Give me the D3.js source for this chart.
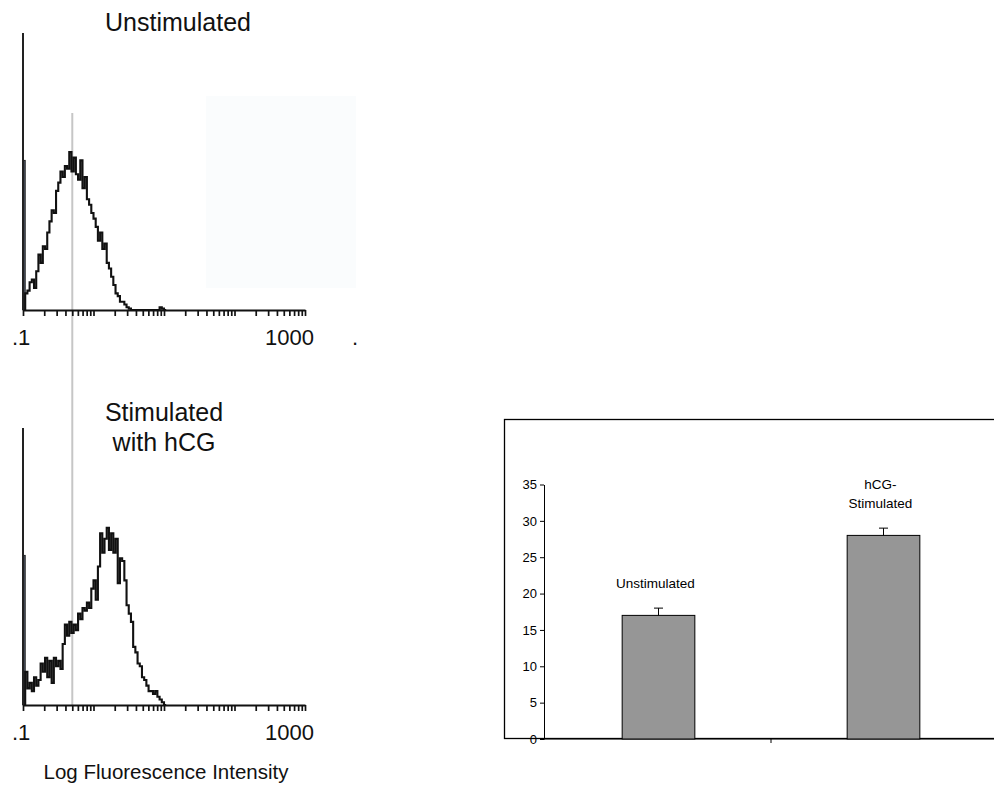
<!DOCTYPE html>
<html>
<head>
<meta charset="utf-8">
<script src="https://cdn.jsdelivr.net/npm/d3@7"></script>
<style>
  html, body { margin: 0; padding: 0; background: #fff; }
  svg { display: block; font-family: "Liberation Sans", Arial, Helvetica, sans-serif; }
</style>
</head>
<body>
<svg id="fig" width="994" height="787"></svg>
<script>
// ---- Flow cytometry histograms (events per channel, 128 channels over 4 log decades) ----
const histDomain = [0.1, 1000];
const channelCount = 128;
const unstimCounts = [54, 6, 7, 10, 11, 8, 14, 20, 17, 23, 22, 28, 32, 36, 35, 43, 46, 50, 48, 52,
  51, 57, 50, 55, 49, 47, 54, 44, 48, 40, 38, 35, 33, 30, 25, 28, 22, 24, 17, 15,
  12, 9, 6, 5, 3, 3, 2, 1, 0.5, 0, 0, 0, 0, 0, 0, 0, 0, 0, 0, 0,
  0, 0, 1, 0.5, 0];
const hcgCounts = [54, 12, 6, 8, 5, 10, 7, 9, 15, 12, 17, 10, 16, 8, 17, 14, 16, 13, 22, 29,
  25, 30, 26, 29, 27, 33, 31, 35, 34, 37, 35, 42, 45, 38, 50, 62, 55, 60, 64, 56,
  62, 55, 60, 44, 53, 52, 45, 36, 33, 30, 21, 19, 15, 14, 10, 9, 7, 5, 5, 4,
  5, 3, 2, 1, 0];
const histTickLabels = [".1", "1000"];
const gateValue = 0.5;

// ---- Bar chart (percentage of cells) ----
const groups = ["Unstimulated", "hCG-Stimulated"];
const groupLabelLines = [["Unstimulated"], ["hCG-", "Stimulated"]];
const means = [17, 28];
const sems = [1, 1];
const barTicks = [0, 5, 10, 15, 20, 25, 30, 35];

const svg = d3.select("#fig");
svg.append("rect").attr("width", 994).attr("height", 787).attr("fill", "#fff");

// very faint tint behind the upper histogram
svg.append("rect").attr("x", 206).attr("y", 96).attr("width", 150).attr("height", 192)
  .attr("fill", "#fafcfd");

const xH = d3.scaleLog().domain(histDomain).range([23, 305]);
const decadeSpan = Math.log10(histDomain[1]) - Math.log10(histDomain[0]);
const edge = i => Math.pow(10, Math.log10(histDomain[0]) + i * decadeSpan / channelCount);

const minorTicks = [];
for (let d = -1; d < 3; d++) for (let m = 1; m < 10; m++) minorTicks.push(m * Math.pow(10, d));
minorTicks.push(1000);

// gate marker spanning both panels
svg.append("line")
  .attr("x1", xH(gateValue)).attr("x2", xH(gateValue))
  .attr("y1", 113).attr("y2", 706)
  .attr("stroke", "#c6c6c6").attr("stroke-width", 2);

function drawHistogram(counts, baseY, titleLines, titleY0) {
  const y = d3.scaleLinear().domain([0, 100]).range([baseY, baseY - 277]);
  const g = svg.append("g");

  // pile-up channel at the low end
  g.append("rect")
    .attr("x", xH(edge(0))).attr("width", xH(edge(1)) - xH(edge(0)))
    .attr("y", y(counts[0])).attr("height", y(0) - y(counts[0]))
    .attr("fill", "#4d5566").attr("stroke", "#222").attr("stroke-width", 1);

  const pts = [[xH(edge(1)), y(0)]];
  for (let i = 1; i < counts.length; i++) pts.push([xH(edge(i)), y(counts[i])]);
  pts.push([xH(edge(counts.length)), y(0)]);
  g.append("path")
    .attr("d", d3.line().curve(d3.curveStepAfter)(pts))
    .attr("fill", "none").attr("stroke", "#111").attr("stroke-width", 2.1)
    .attr("stroke-linejoin", "miter");

  // y axis (no labels)
  g.append("line").attr("x1", 23).attr("x2", 23).attr("y1", baseY - 277).attr("y2", baseY)
    .attr("stroke", "#222").attr("stroke-width", 2);

  const ax = g.append("g").attr("transform", `translate(0,${baseY})`)
    .call(d3.axisBottom(xH).tickValues(minorTicks).tickSize(6).tickSizeOuter(0).tickFormat(""));
  ax.select(".domain").attr("stroke", "#111").attr("stroke-width", 2);
  ax.selectAll(".tick line").attr("stroke", "#111").attr("stroke-width", 1.7);

  g.append("text").attr("x", 12).attr("y", baseY + 35)
    .attr("font-size", 22).attr("fill", "#111").text(histTickLabels[0]);
  g.append("text").attr("x", 314).attr("y", baseY + 35).attr("text-anchor", "end")
    .attr("font-size", 22).attr("fill", "#111").text(histTickLabels[1]);

  titleLines.forEach((t, k) => {
    g.append("text").attr("x", titleLines.length > 1 ? 164 : 178).attr("y", titleY0 + k * 30)
      .attr("text-anchor", "middle").attr("font-size", 25).attr("fill", "#111").text(t);
  });
  return g;
}

drawHistogram(unstimCounts, 310, ["Unstimulated"], 31);
drawHistogram(hcgCounts, 705, ["Stimulated", "with hCG"], 421);

svg.append("text").attr("x", 352).attr("y", 345).attr("font-size", 22).attr("fill", "#111").text(".");
svg.append("text").attr("x", 166).attr("y", 779).attr("text-anchor", "middle")
  .attr("font-size", 20.5).attr("fill", "#111").text("Log Fluorescence Intensity");

// ---- bar chart panel ----
svg.append("rect").attr("x", 504.5).attr("y", 419.5).attr("width", 600).attr("height", 319)
  .attr("fill", "none").attr("stroke", "#000").attr("stroke-width", 1.3);

const yB = d3.scaleLinear().domain([0, 35]).range([739, 484.5]);
const xB = d3.scaleBand().domain(groups).range([546, 996]).paddingInner(0.677).paddingOuter(0.3385);

const yAx = svg.append("g").attr("transform", "translate(544,0)")
  .call(d3.axisLeft(yB).tickValues(barTicks).tickSize(4).tickSizeOuter(0).tickPadding(3));
yAx.select(".domain").attr("stroke", "#000");
yAx.selectAll(".tick line").attr("stroke", "#000");
yAx.selectAll(".tick text").attr("font-size", 13).attr("fill", "#000")
  .attr("font-family", "'Liberation Sans', Arial, sans-serif");

svg.append("line").attr("x1", 544).attr("x2", 994).attr("y1", yB(0)).attr("y2", yB(0))
  .attr("stroke", "#000").attr("stroke-width", 1);
const step = xB.step();
svg.append("line").attr("x1", xB(groups[0]) - step * 0.3385 + step).attr("x2", xB(groups[0]) - step * 0.3385 + step)
  .attr("y1", yB(0)).attr("y2", yB(0) + 4).attr("stroke", "#000");

const bars = svg.append("g").selectAll("g").data(groups).join("g");
bars.append("rect")
  .attr("x", d => xB(d)).attr("width", xB.bandwidth())
  .attr("y", (d, i) => yB(means[i])).attr("height", (d, i) => yB(0) - yB(means[i]))
  .attr("fill", "#969696").attr("stroke", "#000").attr("stroke-width", 1);
bars.append("line")
  .attr("x1", d => xB(d) + xB.bandwidth() / 2).attr("x2", d => xB(d) + xB.bandwidth() / 2)
  .attr("y1", (d, i) => yB(means[i])).attr("y2", (d, i) => yB(means[i] + sems[i]))
  .attr("stroke", "#000");
bars.append("line")
  .attr("x1", d => xB(d) + xB.bandwidth() / 2 - 4.5).attr("x2", d => xB(d) + xB.bandwidth() / 2 + 4.5)
  .attr("y1", (d, i) => yB(means[i] + sems[i])).attr("y2", (d, i) => yB(means[i] + sems[i]))
  .attr("stroke", "#000");
bars.each(function (d, i) {
  const lines = groupLabelLines[i];
  const base = yB(means[i] + sems[i]) - 20;
  lines.forEach((t, k) => {
    d3.select(this).append("text")
      .attr("x", xB(d) + xB.bandwidth() / 2 - 3)
      .attr("y", base - (lines.length - 1 - k) * 18.7)
      .attr("text-anchor", "middle").attr("font-size", 13.5).attr("fill", "#000").text(t);
  });
});
</script>
</body>
</html>
